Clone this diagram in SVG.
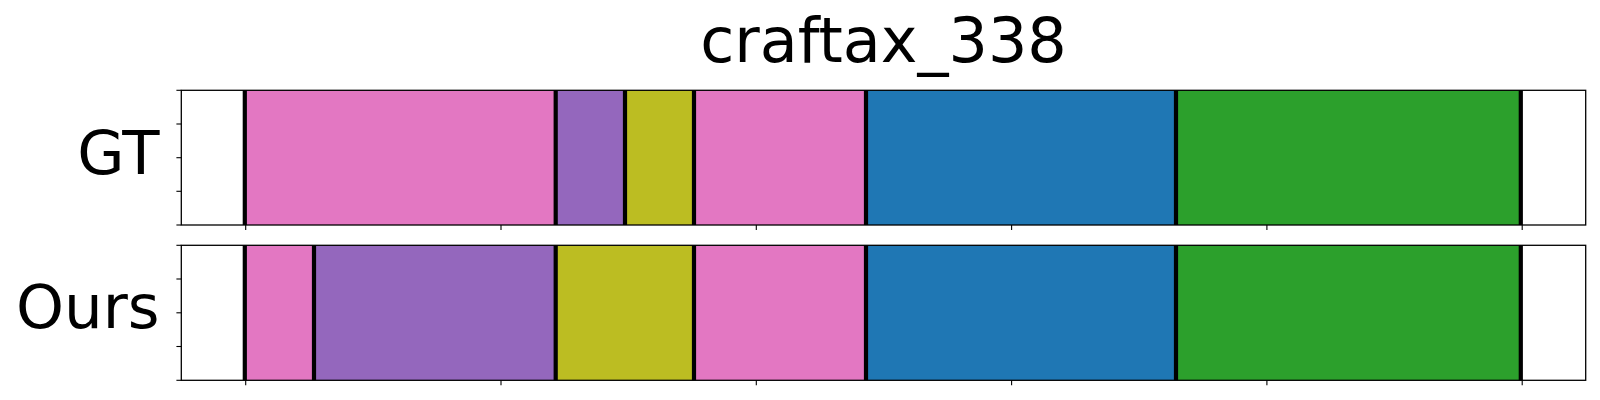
<svg xmlns="http://www.w3.org/2000/svg" width="1600" height="400" viewBox="0 0 1600 400">
<style>
.t{font-family:"DejaVu Sans","Liberation Sans",sans-serif;font-size:62px;fill:#000}
.lb{font-size:61px}
.pink{fill:#e377c2}.purple{fill:#9467bd}.olive{fill:#bcbd22}.blue{fill:#1f77b4}.green{fill:#2ca02c}
.bd{stroke:#000;stroke-width:4.2}
.tk{stroke:#000;stroke-width:1.1}
.sp{fill:none;stroke:#000;stroke-width:1.3}
</style>
<rect width="1600" height="400" fill="#fff"/>
<text class="t" x="883.5" y="62" text-anchor="middle">craftax_338</text>
<g id="gt">
<rect class="pink" x="245.7" y="90.3" width="310" height="134.7"/>
<rect class="purple" x="555.7" y="90.3" width="69.3" height="134.7"/>
<rect class="olive" x="625" y="90.3" width="69" height="134.7"/>
<rect class="pink" x="694" y="90.3" width="172" height="134.7"/>
<rect class="blue" x="866" y="90.3" width="310" height="134.7"/>
<rect class="green" x="1176" y="90.3" width="345" height="134.7"/>
<g class="bd">
<line x1="244.8" y1="90.3" x2="244.8" y2="225"/>
<line x1="555.7" y1="90.3" x2="555.7" y2="225"/>
<line x1="625" y1="90.3" x2="625" y2="225"/>
<line x1="694" y1="90.3" x2="694" y2="225"/>
<line x1="866" y1="90.3" x2="866" y2="225"/>
<line x1="1176" y1="90.3" x2="1176" y2="225"/>
<line x1="1520.8" y1="90.3" x2="1520.8" y2="225"/>
</g>
<rect class="sp" x="181.3" y="90.3" width="1404.4" height="134.7"/>
<g class="tk">
<line x1="176.4" y1="90.3" x2="181.3" y2="90.3"/>
<line x1="176.4" y1="124" x2="181.3" y2="124"/>
<line x1="176.4" y1="157.7" x2="181.3" y2="157.7"/>
<line x1="176.4" y1="191.3" x2="181.3" y2="191.3"/>
<line x1="176.4" y1="225" x2="181.3" y2="225"/>
<line x1="245.7" y1="225" x2="245.7" y2="229.9"/>
<line x1="501" y1="225" x2="501" y2="229.9"/>
<line x1="756.3" y1="225" x2="756.3" y2="229.9"/>
<line x1="1011.6" y1="225" x2="1011.6" y2="229.9"/>
<line x1="1266.9" y1="225" x2="1266.9" y2="229.9"/>
<line x1="1522.2" y1="225" x2="1522.2" y2="229.9"/>
</g>
<text class="t lb" x="159.5" y="174" text-anchor="end">GT</text>
</g>
<g id="ours">
<rect class="pink" x="245.7" y="245.3" width="68.3" height="135"/>
<rect class="purple" x="314" y="245.3" width="241.7" height="135"/>
<rect class="olive" x="555.7" y="245.3" width="138.3" height="135"/>
<rect class="pink" x="694" y="245.3" width="172" height="135"/>
<rect class="blue" x="866" y="245.3" width="310" height="135"/>
<rect class="green" x="1176" y="245.3" width="345" height="135"/>
<g class="bd">
<line x1="244.8" y1="245.3" x2="244.8" y2="380.3"/>
<line x1="314" y1="245.3" x2="314" y2="380.3"/>
<line x1="555.7" y1="245.3" x2="555.7" y2="380.3"/>
<line x1="694" y1="245.3" x2="694" y2="380.3"/>
<line x1="866" y1="245.3" x2="866" y2="380.3"/>
<line x1="1176" y1="245.3" x2="1176" y2="380.3"/>
<line x1="1520.8" y1="245.3" x2="1520.8" y2="380.3"/>
</g>
<rect class="sp" x="181.3" y="245.3" width="1404.4" height="135"/>
<g class="tk">
<line x1="176.4" y1="245.3" x2="181.3" y2="245.3"/>
<line x1="176.4" y1="279" x2="181.3" y2="279"/>
<line x1="176.4" y1="312.8" x2="181.3" y2="312.8"/>
<line x1="176.4" y1="346.5" x2="181.3" y2="346.5"/>
<line x1="176.4" y1="380.3" x2="181.3" y2="380.3"/>
<line x1="245.7" y1="380.3" x2="245.7" y2="385.2"/>
<line x1="501" y1="380.3" x2="501" y2="385.2"/>
<line x1="756.3" y1="380.3" x2="756.3" y2="385.2"/>
<line x1="1011.6" y1="380.3" x2="1011.6" y2="385.2"/>
<line x1="1266.9" y1="380.3" x2="1266.9" y2="385.2"/>
<line x1="1522.2" y1="380.3" x2="1522.2" y2="385.2"/>
</g>
<text class="t lb" x="159.5" y="328" text-anchor="end">Ours</text>
</g>
</svg>
